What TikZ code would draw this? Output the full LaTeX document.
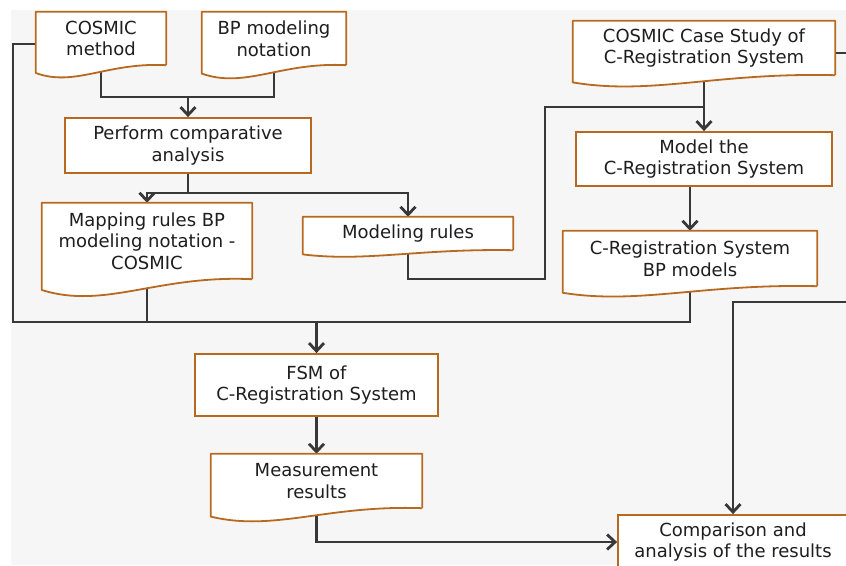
\documentclass[tikz,border=0pt]{standalone}
\usepackage{fontspec}
\setmainfont{DejaVu Sans}
\usepackage{tikz}
\usetikzlibrary{calc,arrows.meta}

\definecolor{docbrown}{RGB}{184,105,32}
\definecolor{linegray}{RGB}{56,56,56}
\definecolor{paper}{RGB}{246,246,246}
\definecolor{inkgray}{RGB}{30,30,30}

% wavy bottom of a document node: name, depth of the wave
\newcommand{\docshape}[2]{%
	\path[fill=white] (#1.south west) -- ([yshift=-#2*0.6pt]#1.south west)
		.. controls ($(#1.south west)!0.3!(#1.south east)+(0,-#2*1.7pt)$) and ($(#1.south west)!0.55!(#1.south east)+(0,#2*0.25pt)$) .. (#1.south east) -- cycle;
	\draw[docline] (#1.south east) -- (#1.north east) -- (#1.north west) -- ([yshift=-#2*0.6pt]#1.south west)
		.. controls ($(#1.south west)!0.3!(#1.south east)+(0,-#2*1.7pt)$) and ($(#1.south west)!0.55!(#1.south east)+(0,#2*0.25pt)$) .. (#1.south east);
}

\begin{document}
\begin{tikzpicture}[x=1pt,y=-1pt,
	every node/.style={font=\fontsize{18}{21.6}\selectfont, text=inkgray, align=center, inner sep=0pt},
	box/.style={draw=docbrown, line width=1.8pt, fill=white},
	doc/.style={fill=white},
	docline/.style={draw=docbrown, line width=1.8pt, line join=round},
	line/.style={draw=linegray, line width=2.8pt},
	arrow/.style={line, -{Straight Barb[length=8pt,width=15pt]}}]

	\useasboundingbox (0,0) rectangle (846,565);
	\fill[white] (0,0) rectangle (846,565);
	\fill[paper] (11,10) rectangle (846,565);

	\node[doc, minimum width=130, minimum height=53] (method) at (101, 38.5) {COSMIC\\method};
	\node[doc, minimum width=144, minimum height=53] (bpnot) at (274, 38.5) {BP modeling\\notation};
	\node[box, minimum width=246, minimum height=55] (perform) at (188, 145.5) {Perform comparative\\analysis};
	\node[doc, minimum width=210, minimum height=76] (mapping) at (147, 241) {Mapping rules BP\\modeling notation -\\COSMIC};
	\node[doc, minimum width=210, minimum height=33] (modeling) at (408, 233.5) {Modeling rules};
	\node[doc, minimum width=262, minimum height=54] (casestudy) at (704, 48) {COSMIC Case Study of\\C-Registration System};
	\node[box, minimum width=256, minimum height=54] (model) at (704, 159) {Model the\\C-Registration System};
	\node[doc, minimum width=254, minimum height=55] (bpmodels) at (690, 258.5) {C-Registration System\\BP models};
	\node[box, minimum width=243, minimum height=62] (fsm) at (316.5, 385) {FSM of\\C-Registration System};
	\node[doc, minimum width=211, minimum height=54] (measurement) at (316.5, 481) {Measurement\\results};
	\node[box, minimum width=230, minimum height=54] (comparison) at (733, 542) {Comparison and\\analysis of the results};

	\coordinate (notejoin) at (188, 97);
	\coordinate (split) at (188, 193);
	\coordinate (mrturn) at (545, 279);
	\coordinate (csjoin) at (704, 107);
	\coordinate (leftturn) at (13, 322);
	\coordinate (bus) at (316.5, 322);
	\coordinate (rightin) at (848, 302);
	\coordinate (rightout) at (848, 53);

	\draw[line] (method.south) |- (notejoin) -| (bpnot.south);
	\draw[arrow] (notejoin) -- (perform.north);
	\draw[line] (perform.south) -- (split);
	\draw[arrow] (split) -| (mapping.north);
	\draw[arrow] (split) -| (modeling.north);
	\draw[line] (modeling.south) |- (mrturn) |- (csjoin);
	\draw[arrow] (casestudy.south) -- (model.north);
	\draw[arrow] (model.south -| bpmodels.north) -- (bpmodels.north);
	\draw[line] ([yshift=-5.5pt]method.west) -| (leftturn) -| (bpmodels.south);
	\draw[line] (mapping.south) -- (mapping.south |- bus);
	\draw[arrow] (bus) -- (fsm.north);
	\draw[arrow] (fsm.south) -- (measurement.north);
	\draw[arrow] (measurement.south) |- (comparison.west);
	\draw[arrow] (rightin) -| (comparison.north);
	\draw[line] (casestudy.east |- rightout) -- (rightout);

	\foreach \n/\d in {method/13, bpnot/14, mapping/18, modeling/7, casestudy/12, bpmodels/11, measurement/14}
		\docshape{\n}{\d};

\end{tikzpicture}
\end{document}
